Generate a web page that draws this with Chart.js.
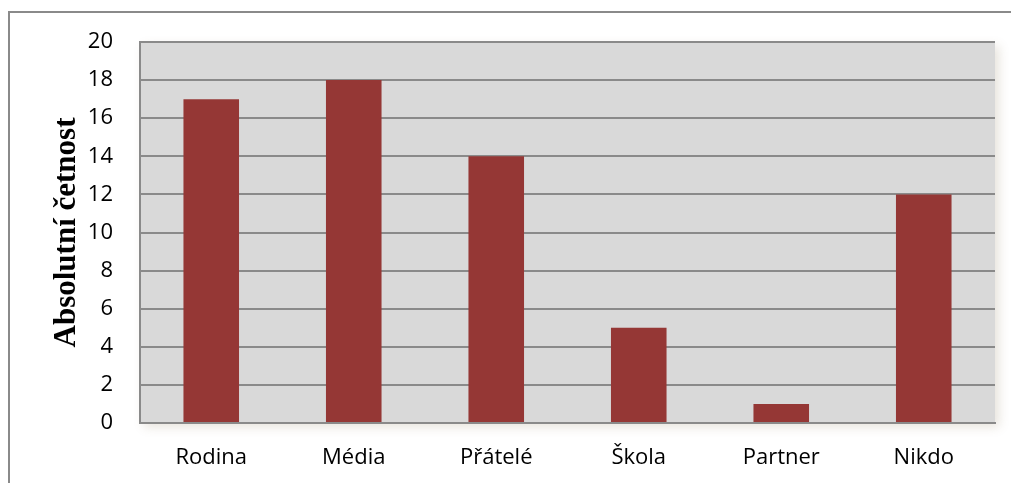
<!DOCTYPE html>
<html>
<head>
<meta charset="utf-8">
<script src="https://cdn.jsdelivr.net/npm/chart.js@4"></script>
<style>
  html, body { margin: 0; padding: 0; background: #fff; }
  #wrap { width: 1011px; height: 483px; }
</style>
</head>
<body>
<div id="wrap"><canvas id="chart" width="1011" height="483"></canvas></div>
<script>
const categories = ['Rodina', 'Média', 'Přátelé', 'Škola', 'Partner', 'Nikdo'];
const counts = [17, 18, 14, 5, 1, 12];
const yMax = 20;
const yStep = 2;
const yTitle = 'Absolutní četnost';

// outer frame + grey plot background with a soft shadow
const backdrop = {
    id: 'backdrop',
    beforeDraw(chart) {
        const c = chart.ctx;
        const a = chart.chartArea;
        c.save();
        c.strokeStyle = '#8a8a8a';
        c.lineWidth = 2;
        c.strokeRect(9, 12, 1100, 600);
        c.shadowColor = 'rgba(120, 100, 60, 0.18)';
        c.shadowBlur = 10;
        c.shadowOffsetX = 4;
        c.shadowOffsetY = 4;
        c.fillStyle = '#d9d9d9';
        c.fillRect(a.left, a.top, a.right - a.left, a.bottom - a.top);
        c.restore();
    }
};

new Chart(document.getElementById('chart'), {
    type: 'bar',
    data: {
        labels: categories,
        datasets: [{
            data: counts,
            backgroundColor: '#953735',
            barPercentage: 0.39,
            categoryPercentage: 1
        }]
    },
    options: {
        responsive: false,
        animation: false,
        layout: { padding: { left: 48, right: 16, top: 42, bottom: 0 } },
        plugins: {
            legend: { display: false },
            tooltip: { enabled: false }
        },
        scales: {
            x: {
                grid: { display: false, drawTicks: false },
                border: { display: true, color: '#8a8a8a', width: 2 },
                ticks: {
                    color: '#000',
                    padding: 22,
                    font: { family: 'Open Sans', size: 22 }
                },
                afterFit(scale) { scale.height = 60; }
            },
            y: {
                min: 0,
                max: yMax,
                grid: { color: '#8a8a8a', lineWidth: 2, drawTicks: false },
                border: { display: true, color: '#8a8a8a', width: 2 },
                ticks: {
                    stepSize: yStep,
                    color: '#000',
                    padding: 27,
                    font: { family: 'Open Sans', size: 22 }
                },
                title: {
                    display: true,
                    text: yTitle,
                    color: '#000',
                    padding: 0,
                    font: { family: 'Liberation Serif', size: 31, weight: 'bold' }
                },
                afterFit(scale) { scale.width = 92; }
            }
        }
    },
    plugins: [backdrop]
});
</script>
</body>
</html>
